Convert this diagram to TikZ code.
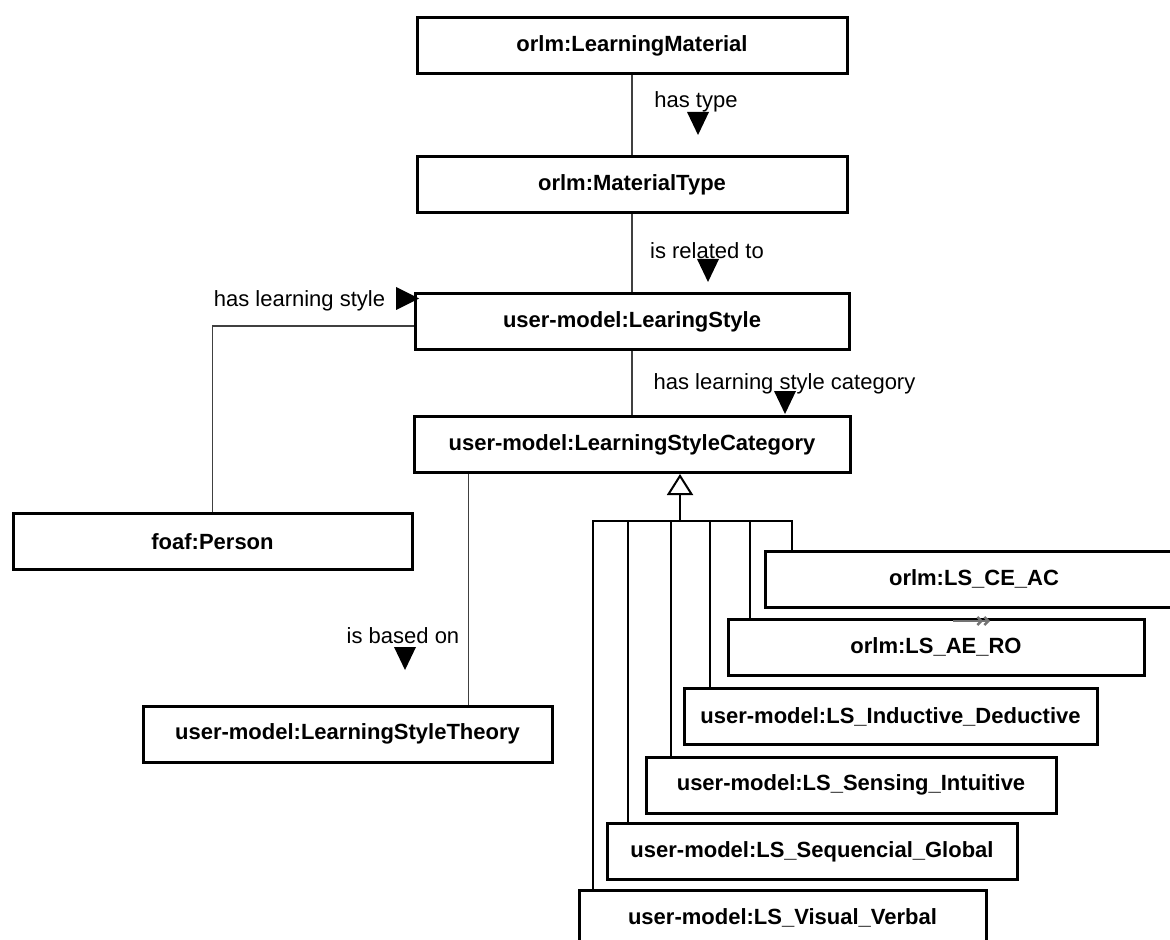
\documentclass[tikz,border=0pt]{standalone}
\usepackage{fontspec}
\setmainfont{Liberation Sans}
\usetikzlibrary{arrows.meta, positioning}

\begin{document}
\begin{tikzpicture}[
  x=0.5pt, y=-0.5pt,
  box/.style={rectangle, draw, line width=1.5pt, minimum width=#1, minimum height=28pt, inner sep=0pt, font=\fontsize{11}{13}\selectfont\bfseries},
  box/.default=215pt,
  lbl/.style={inner sep=0pt, font=\fontsize{11}{13}\selectfont},
  link/.style={black!75, line width=0.75pt},
  gen/.style={black, line width=1pt, line join=miter}
]
  \useasboundingbox (0,0) rectangle (1170,940);

  \node[box] (lm) at (632,45.5) {orlm:LearningMaterial};
  \node[box, below=40pt of lm] (mtype) {orlm:MaterialType};
  \node[box=217pt, below=39pt of mtype] (lstyle) {user-model:LearingStyle};
  \node[box=218pt, below=32pt of lstyle] (lscat) {user-model:LearningStyleCategory};
  \node[box=199.5pt] (person) at (212.5,541.5) {foaf:Person};
  \node[box=204.5pt] (theory) at (347.5,734) {user-model:LearningStyleTheory};

  \node[box=209pt] (ceac) at (974,579) {orlm:LS\_CE\_AC};
  \node[box=208pt] (aero) at (936,647) {orlm:LS\_AE\_RO};
  \node[box=206.5pt] (indded) at (890.5,716.5) {user-model:LS\_Inductive\_Deductive};
  \node[box=205pt] (sensint) at (851,785) {user-model:LS\_Sensing\_Intuitive};
  \node[box=205pt] (seqglob) at (812,851.5) {user-model:LS\_Sequencial\_Global};
  \node[box=203.5pt] (visverb) at (782.5,918) {user-model:LS\_Visual\_Verbal};

  \node[lbl] (l-type) at (696,102) {has type};
  \node[lbl] (l-rel) at (707,251) {is related to};
  \node[lbl] (l-style) at (299.5,301) {has learning style};
  \node[lbl] (l-cat) at (784.5,384) {has learning style category};
  \node[lbl] (l-based) at (403,636) {is based on};

  \foreach \x/\y in {698/112, 708/259, 785/391, 405/647}
    \fill (\x-11,\y) -- (\x+11,\y) -- (\x,\y+23) -- cycle;
  \fill (396,287) -- (396,310) -- (419,298.5) -- cycle;

  \draw[link] (lm) -- (mtype);
  \draw[link] (mtype) -- (lstyle);
  \draw[link] (lstyle) -- (lscat);
  \draw[link] ([yshift=-2.25pt]lstyle.west) -| (person.north);
  \coordinate (based) at ([xshift=28pt]lscat.south west);
  \draw[link] (based) -- (based |- theory.north);

  \coordinate (hub) at (680,521);
  \draw[gen, -{Triangle[open, width=13pt, length=10.5pt]}] (hub) -- (hub |- lscat.south);
  \foreach \sub/\dx in {visverb/593, seqglob/628, sensint/671, indded/710, aero/750, ceac/792} {
    \coordinate (d-\sub) at (\dx,521);
    \draw[gen] (d-\sub) -- (d-\sub |- \sub.north);
  }
  \draw[gen, line cap=rect] (d-visverb) -- (d-ceac);

  \draw[black!55, line width=1.2pt, -{Straight Barb[length=2pt, width=4pt] Straight Barb[length=2pt, width=4pt]}] ([xshift=8.5pt, yshift=-1.75pt]aero.north) -- ++(37,0);
\end{tikzpicture}
\end{document}
